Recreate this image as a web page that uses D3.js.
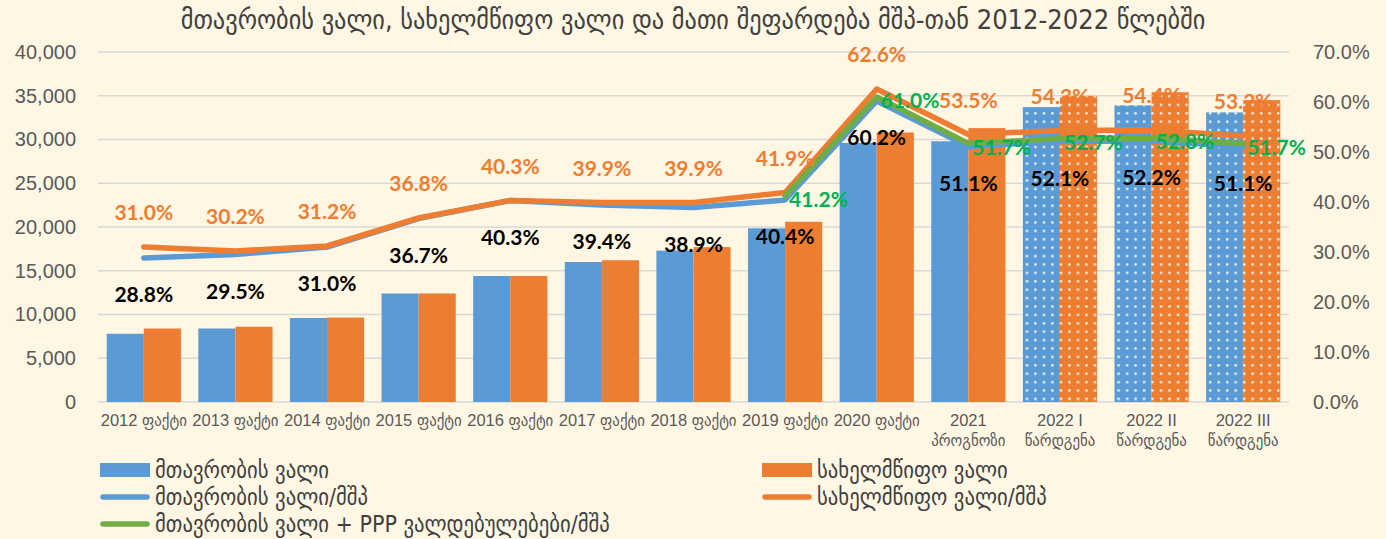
<!DOCTYPE html>
<html>
<head>
<meta charset="utf-8">
<script src="https://cdn.jsdelivr.net/npm/d3@7"></script>
<style>
  body { margin: 0; background: #FFF7E4; }
  svg { display: block; }
</style>
</head>
<body>
<script>
// chart data
var categories = ['2012', '2013', '2014', '2015', '2016', '2017', '2018', '2019', '2020', '2021', '2022 I', '2022 II', '2022 III'];
var tickLabels = [
  ['2012 ფაქტი'], ['2013 ფაქტი'], ['2014 ფაქტი'], ['2015 ფაქტი'], ['2016 ფაქტი'],
  ['2017 ფაქტი'], ['2018 ფაქტი'], ['2019 ფაქტი'], ['2020 ფაქტი'],
  ['2021', 'პროგნოზი'], ['2022 I', 'წარდგენა'], ['2022 II', 'წარდგენა'], ['2022 III', 'წარდგენა']
];
var govDebt = [7800, 8400, 9600, 12400, 14400, 16000, 17300, 19850, 29600, 29800, 33700, 33900, 33100];
var stateDebt = [8400, 8600, 9650, 12400, 14400, 16200, 17700, 20600, 30800, 31300, 35000, 35400, 34500];
var govRatio = [28.8, 29.5, 31.0, 36.7, 40.3, 39.4, 38.9, 40.4, 60.2, 51.1, 52.1, 52.2, 51.1];
var stateRatio = [31.0, 30.2, 31.2, 36.8, 40.3, 39.9, 39.9, 41.9, 62.6, 53.5, 54.3, 54.4, 53.2];
var pppRatio = [null, null, null, null, null, null, null, 41.2, 61.0, 51.7, 52.7, 52.8, 51.7];
var dottedCats = ['2022 I', '2022 II', '2022 III'];

var seriesNames = ['მთავრობის ვალი', 'სახელმწიფო ვალი', 'მთავრობის ვალი/მშპ', 'სახელმწიფო ვალი/მშპ', 'მთავრობის ვალი + PPP ვალდებულებები/მშპ'];
var title = 'მთავრობის ვალი, სახელმწიფო ვალი და მათი შეფარდება მშპ-თან 2012-2022 წლებში';

var w = 1386;
var h = 539;
var plotL = 98, plotR = 1289, plotT = 52, plotB = 402;
var blue = '#5B9BD5', orange = '#ED7D31', green = '#70AD47';
var geo = "'DejaVu Sans Condensed', 'DejaVu Sans', sans-serif";

var svg = d3.select('body')
  .append('svg')
  .attr('width', w)
  .attr('height', h);

// dotted fill for the 2022 bars
var defs = svg.append('defs');
[['dotBlue', blue], ['dotOrange', orange]].forEach(function(p){
  var pat = defs.append('pattern')
    .attr('id', p[0])
    .attr('width', 8.5)
    .attr('height', 8.4)
    .attr('patternUnits', 'userSpaceOnUse');
  pat.append('rect').attr('width', 8.5).attr('height', 8.4).attr('fill', p[1]);
  pat.append('rect').attr('x', 3).attr('y', 3).attr('width', 2.2).attr('height', 2.2).attr('fill', 'white');
});

var xScale = d3.scaleBand()
  .domain(categories)
  .range([plotL, plotR])
  .paddingInner(0.19)
  .paddingOuter(0.095);

var xSub = d3.scaleBand()
  .domain(['gov', 'state'])
  .range([0, xScale.bandwidth()]);

var yLeft = d3.scaleLinear().domain([0, 40000]).range([plotB, plotT]);
var yRight = d3.scaleLinear().domain([0, 70]).range([plotB, plotT]);

// gridlines
svg.append('g')
  .selectAll('line')
  .data(d3.range(0, 40001, 5000))
  .enter()
  .append('line')
  .attr('x1', plotL)
  .attr('x2', plotR)
  .attr('y1', function(d){ return yLeft(d); })
  .attr('y2', function(d){ return yLeft(d); })
  .attr('stroke', '#D9D9D9')
  .attr('stroke-width', 1.5);

// axes
var leftAxis = d3.axisLeft(yLeft)
  .tickValues(d3.range(0, 40001, 5000))
  .tickFormat(d3.format(','))
  .tickSize(0)
  .tickPadding(22);

var rightAxis = d3.axisRight(yRight)
  .tickValues(d3.range(0, 71, 10))
  .tickFormat(function(d){ return d3.format('.1f')(d) + '%'; })
  .tickSize(0)
  .tickPadding(24);

svg.append('g')
  .attr('class', 'axis')
  .attr('transform', 'translate(' + plotL + ',0)')
  .call(leftAxis);

svg.append('g')
  .attr('class', 'axis')
  .attr('transform', 'translate(' + plotR + ',0)')
  .call(rightAxis);

svg.selectAll('.axis .domain').remove();
svg.selectAll('.axis text')
  .attr('font-family', "'Liberation Sans', Arial, sans-serif")
  .attr('font-size', '20px')
  .attr('fill', '#595959');

// bars
var barData = categories.map(function(c, i){
  return {cat: c, gov: govDebt[i], state: stateDebt[i]};
});

var groups = svg.append('g')
  .selectAll('g')
  .data(barData)
  .enter()
  .append('g')
  .attr('transform', function(d){ return 'translate(' + xScale(d.cat) + ',0)'; });

groups.selectAll('rect')
  .data(function(d){
    var dotted = dottedCats.indexOf(d.cat) >= 0;
    return [
      {key: 'gov', value: d.gov, fill: dotted ? 'url(#dotBlue)' : blue},
      {key: 'state', value: d.state, fill: dotted ? 'url(#dotOrange)' : orange}
    ];
  })
  .enter()
  .append('rect')
  .attr('x', function(d){ return xSub(d.key); })
  .attr('y', function(d){ return yLeft(d.value); })
  .attr('width', xSub.bandwidth())
  .attr('height', function(d){ return plotB - yLeft(d.value); })
  .attr('fill', function(d){ return d.fill; });

// x labels
var xLabels = svg.append('g')
  .selectAll('text')
  .data(categories)
  .enter()
  .append('text')
  .attr('x', function(d){ return xScale(d) + xScale.bandwidth() / 2; })
  .attr('y', 426)
  .attr('text-anchor', 'middle')
  .attr('font-family', "'Liberation Sans', 'DejaVu Sans Condensed', sans-serif")
  .attr('font-size', '16.5px')
  .attr('fill', '#595959');

xLabels.selectAll('tspan')
  .data(function(d, i){ return tickLabels[i]; })
  .enter()
  .append('tspan')
  .attr('x', function(){ return this.parentNode.getAttribute('x'); })
  .attr('dy', function(d, i){ return i === 0 ? 0 : 20; })
  .text(function(d){ return d; });

// ratio lines
function cx(i){ return xScale(categories[i]) + xScale.bandwidth() / 2; }

var line = d3.line()
  .defined(function(d){ return d != null; })
  .x(function(d, i){ return cx(i); })
  .y(function(d){ return yRight(d); });

[[govRatio, blue], [stateRatio, orange], [pppRatio, green]].forEach(function(s){
  svg.append('path')
    .datum(s[0])
    .attr('d', line)
    .attr('fill', 'none')
    .attr('stroke', s[1])
    .attr('stroke-width', 5.5)
    .attr('stroke-linejoin', 'round')
    .attr('stroke-linecap', 'round');
});

// data labels
var fmt = function(d){ return d3.format('.1f')(d) + '%'; };
var labelFont = "Lato, 'Open Sans', sans-serif";

svg.append('g')
  .selectAll('text')
  .data(stateRatio)
  .enter()
  .append('text')
  .attr('x', function(d, i){ return cx(i); })
  .attr('y', function(d){ return yRight(d) - 27; })
  .attr('text-anchor', 'middle')
  .attr('font-family', labelFont)
  .attr('font-weight', 'bold')
  .attr('font-size', '21px')
  .attr('fill', orange)
  .text(fmt);

svg.append('g')
  .selectAll('text')
  .data(govRatio)
  .enter()
  .append('text')
  .attr('x', function(d, i){ return cx(i); })
  .attr('y', function(d){ return yRight(d) + 44; })
  .attr('text-anchor', 'middle')
  .attr('font-family', labelFont)
  .attr('font-weight', 'bold')
  .attr('font-size', '21px')
  .attr('fill', '#000')
  .text(fmt);

svg.append('g')
  .selectAll('text')
  .data(pppRatio.map(function(d, i){ return {v: d, i: i}; }).filter(function(d){ return d.v != null; }))
  .enter()
  .append('text')
  .attr('x', function(d){ return cx(d.i) + 4; })
  .attr('y', function(d){ return yRight(d.v) + 11; })
  .attr('font-family', labelFont)
  .attr('font-weight', 'bold')
  .attr('font-size', '21px')
  .attr('fill', '#00B050')
  .text(function(d){ return fmt(d.v); });

// title
svg.append('text')
  .attr('x', w / 2)
  .attr('y', 29)
  .attr('text-anchor', 'middle')
  .attr('font-family', geo)
  .attr('font-size', '27px')
  .attr('fill', '#404040')
  .text(title);

// legend
var legend = svg.append('g');
var legendItems = [
  {name: seriesNames[0], color: blue, type: 'rect', x: 100, y: 470},
  {name: seriesNames[1], color: orange, type: 'rect', x: 762, y: 470},
  {name: seriesNames[2], color: blue, type: 'line', x: 100, y: 497},
  {name: seriesNames[3], color: orange, type: 'line', x: 762, y: 497},
  {name: seriesNames[4], color: green, type: 'line', x: 100, y: 524}
];

legendItems.forEach(function(d){
  if (d.type === 'rect') {
    legend.append('rect')
      .attr('x', d.x)
      .attr('y', d.y - 7)
      .attr('width', 50)
      .attr('height', 14)
      .attr('fill', d.color);
  } else {
    legend.append('line')
      .attr('x1', d.x + 3)
      .attr('x2', d.x + 47)
      .attr('y1', d.y)
      .attr('y2', d.y)
      .attr('stroke', d.color)
      .attr('stroke-width', 5.5)
      .attr('stroke-linecap', 'round');
  }
  legend.append('text')
    .attr('x', d.x + 55)
    .attr('y', d.y + 8)
    .attr('font-family', geo)
    .attr('font-size', '23px')
    .attr('fill', '#404040')
    .text(d.name);
});
</script>
</body>
</html>
